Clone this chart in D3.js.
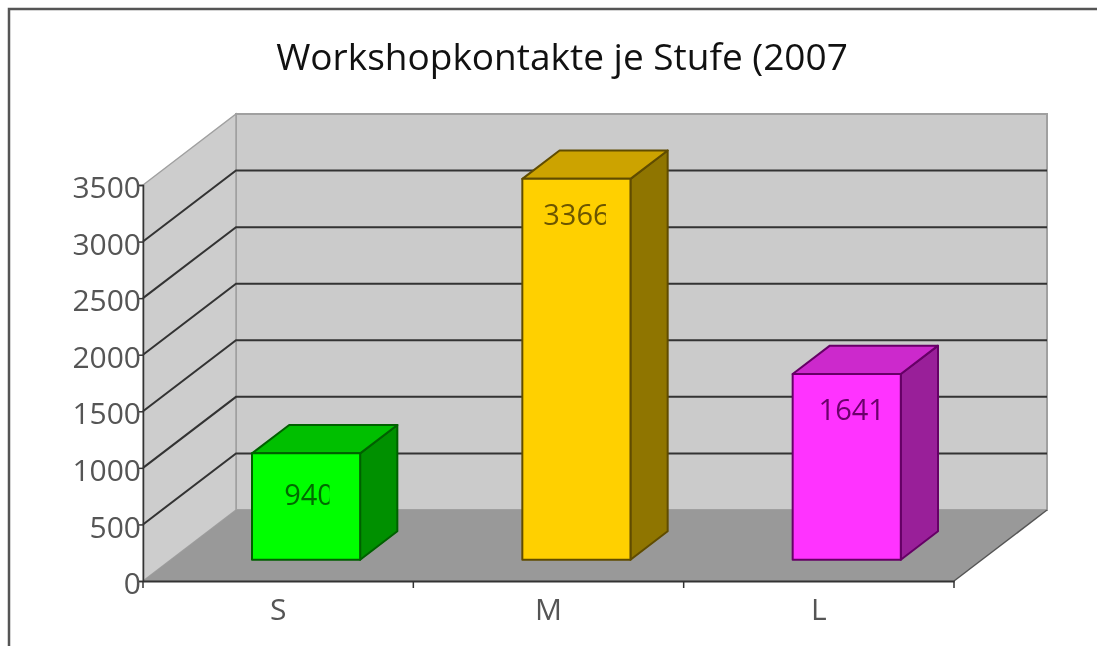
<!DOCTYPE html>
<html>
<head>
<meta charset="utf-8">
<script src="https://d3js.org/d3.v7.min.js"></script>
<style>
    html, body { margin: 0; padding: 0; background: #fff; overflow: hidden; }
    text { font-family: "Open Sans", "DejaVu Sans", sans-serif; }
    svg { filter: blur(0.45px); }
</style>
</head>
<body>
<div id="chart"></div>
<script>
// values
var categories = ["S", "M", "L"];
var values = [940, 3366, 1641];
var yTicks = [0, 500, 1000, 1500, 2000, 2500, 3000, 3500];
var titleText = "Workshopkontakte je Stufe (2007";

// bar styles, same order as categories
var frontColors = ["#00ff00", "#ffd000", "#ff33ff"];
var topColors = ["#00bf00", "#cca300", "#cc29cc"];
var sideColors = ["#009000", "#8f7500", "#991f99"];
var edgeColors = ["#006000", "#604c00", "#660066"];
var labelColors = ["#006a00", "#6b5500", "#6b006b"];
// the original labels are cut off on the right, and 940 sits a bit lower
var labelClipRight = [23.5, 29.5, 60];
var labelShift = [3, 0, 5];
var labelDrop = [52, 46, 46];

var svgWidth = 1097;
var svgHeight = 646;
var margin = { top: 185, right: 143, bottom: 65, left: 143 };
var width = svgWidth - margin.left - margin.right;
var height = svgHeight - margin.top - margin.bottom;

// depth of the fake 3d box
var depthX = 93;
var depthY = 71;

var svg = d3.select("#chart")
    .append("svg")
    .attr("width", svgWidth)
    .attr("height", svgHeight)
    .style("display", "block");

// frame around the chart, right side is cropped in the original
svg.append("path")
    .attr("d", `M9,${svgHeight}V9H${svgWidth}`)
    .attr("fill", "none")
    .attr("stroke", "#555")
    .attr("stroke-width", 2.5);

var chartGroup = svg.append("g")
    .attr("transform", `translate(${margin.left}, ${margin.top})`);

var xScale = d3.scaleBand()
    .domain(categories)
    .range([0, width])
    .paddingInner(0.6)
    .paddingOuter(0.3);

var yScale = d3.scaleLinear()
    .domain([0, 3500])
    .range([height, 0]);

// z goes from 0 (front edge) to 1 (back wall)
function px(x, z) { return x + z * depthX; }
function py(v, z) { return yScale(v) - z * depthY; }
function points(list) {
    return list.map(p => [px(p[0], p[2]), py(p[1], p[2])].join(",")).join(" ");
}

// walls and floor
chartGroup.append("polygon")
    .attr("points", points([[0, 0, 1], [width, 0, 1], [width, 3500, 1], [0, 3500, 1]]))
    .attr("fill", "#cbcbcb")
    .attr("stroke", "#a0a0a0")
    .attr("stroke-width", 2);

chartGroup.append("polygon")
    .attr("points", points([[0, 0, 0], [0, 0, 1], [0, 3500, 1], [0, 3500, 0]]))
    .attr("fill", "#cdcdcd")
    .attr("stroke", "#a0a0a0")
    .attr("stroke-width", 1.5);

chartGroup.append("polygon")
    .attr("points", points([[0, 0, 0], [width, 0, 0], [width, 0, 1], [0, 0, 1]]))
    .attr("fill", "#999");

chartGroup.append("line")
    .attr("x1", px(width, 0)).attr("y1", py(0, 0))
    .attr("x2", px(width, 1)).attr("y2", py(0, 1))
    .attr("stroke", "#555")
    .attr("stroke-width", 1.5);

// grid lines run along the side wall and then the back wall
chartGroup.selectAll(".grid")
    .data(yTicks.filter(d => d > 0 && d < 3500))
    .enter()
    .append("polyline")
    .attr("class", "grid")
    .attr("points", d => points([[0, d, 0], [0, d, 1], [width, d, 1]]))
    .attr("fill", "none")
    .attr("stroke", "#333")
    .attr("stroke-width", 2);

// axes
var yAxis = d3.axisLeft(yScale)
    .tickValues(yTicks)
    .tickFormat(d3.format("d"))
    .tickSize(5)
    .tickPadding(-3);
var xAxis = d3.axisBottom(xScale).tickSize(0).tickPadding(18);

var yGroup = chartGroup.append("g").call(yAxis);
var xGroup = chartGroup.append("g")
    .attr("transform", `translate(0,${height})`)
    .call(xAxis);

yGroup.selectAll("path, line").attr("stroke", "#333").attr("stroke-width", 1.5);
xGroup.select("path").attr("stroke", "#333").attr("stroke-width", 2);
yGroup.selectAll("text")
    .attr("font-size", 30)
    .attr("dy", "0.42em")
    .attr("fill", "#555");
xGroup.selectAll("text")
    .attr("font-size", 30)
    .attr("fill", "#555");

// ticks on x sit between the categories
xGroup.selectAll(".sep")
    .data(d3.range(categories.length + 1))
    .enter()
    .append("line")
    .attr("class", "sep")
    .attr("x1", d => d * width / categories.length)
    .attr("x2", d => d * width / categories.length)
    .attr("y1", 0)
    .attr("y2", 7)
    .attr("stroke", "#333")
    .attr("stroke-width", 1.5);

// bars
var barZ = 0.3;
var barDepth = 0.4;
var barW = xScale.bandwidth();

var barGroup = chartGroup.selectAll(".bar")
    .data(values)
    .enter()
    .append("g")
    .attr("class", "bar");

function barBase(i) {
    return xScale(categories[i]);
}

// side
barGroup.append("polygon")
    .attr("points", (d, i) => {
        var x = barBase(i) + barW;
        return points([[x, 0, barZ], [x, 0, barZ + barDepth], [x, d, barZ + barDepth], [x, d, barZ]]);
    })
    .attr("fill", (d, i) => sideColors[i])
    .attr("stroke", (d, i) => edgeColors[i])
    .attr("stroke-width", 2)
    .attr("stroke-linejoin", "round");

// top
barGroup.append("polygon")
    .attr("points", (d, i) => {
        var x = barBase(i);
        return points([[x, d, barZ], [x + barW, d, barZ], [x + barW, d, barZ + barDepth], [x, d, barZ + barDepth]]);
    })
    .attr("fill", (d, i) => topColors[i])
    .attr("stroke", (d, i) => edgeColors[i])
    .attr("stroke-width", 2)
    .attr("stroke-linejoin", "round");

// front
barGroup.append("polygon")
    .attr("points", (d, i) => {
        var x = barBase(i);
        return points([[x, 0, barZ], [x + barW, 0, barZ], [x + barW, d, barZ], [x, d, barZ]]);
    })
    .attr("fill", (d, i) => frontColors[i])
    .attr("stroke", (d, i) => edgeColors[i])
    .attr("stroke-width", 2)
    .attr("stroke-linejoin", "round");

// value labels, clipped like the original
var defs = svg.append("defs");
values.forEach(function (d, i) {
    var cx = px(barBase(i) + barW / 2, barZ);
    defs.append("clipPath")
        .attr("id", "labelClip" + i)
        .append("rect")
        .attr("x", cx - 60)
        .attr("y", py(d, barZ))
        .attr("width", 60 + labelClipRight[i])
        .attr("height", 80);
});

// clip-path goes on a wrapper so the text offset does not move the clip
barGroup.append("g")
    .attr("clip-path", (d, i) => `url(#labelClip${i})`)
    .append("text")
    .attr("x", (d, i) => px(barBase(i) + barW / 2, barZ) + labelShift[i])
    .attr("y", (d, i) => py(d, barZ) + labelDrop[i])
    .attr("text-anchor", "middle")
    .attr("font-size", 29)
    .attr("fill", (d, i) => labelColors[i])
    .text(d => d);

// title
svg.append("text")
    .attr("x", 562)
    .attr("y", 70)
    .attr("text-anchor", "middle")
    .attr("font-size", 37)
    .attr("fill", "#111")
    .text(titleText);
</script>
</body>
</html>
